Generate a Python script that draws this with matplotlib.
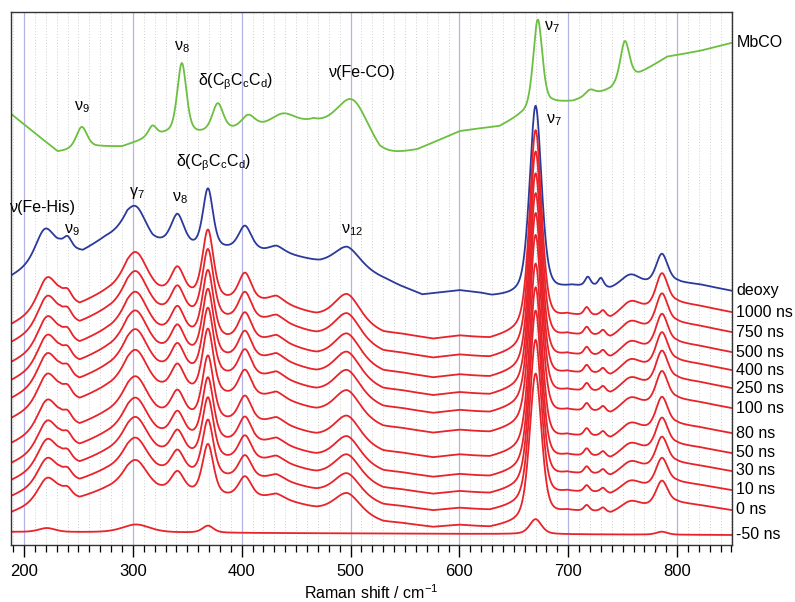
import numpy as np
import matplotlib
matplotlib.use("Agg")
import matplotlib.pyplot as plt
from matplotlib.ticker import MultipleLocator

plt.rcParams['font.family'] = ['Liberation Sans', 'DejaVu Sans']
plt.rcParams['mathtext.default'] = 'regular'

# ---------------- data ----------------
wavenumber = np.arange(188.0, 850.5, 0.5)

# MbCO (green): background points and bands (centre, height, FWHM)
mbco_bg_x = [188, 231, 270, 290, 310, 330, 360, 395, 466, 527, 561, 600, 620, 637, 655, 686, 704, 739, 766, 791, 821, 850]
mbco_bg_y = [431, 393, 398, 398, 405, 410, 410, 414, 420, 386, 394, 413, 416, 418, 428, 441, 443, 455, 471, 488, 494, 502]
mbco_center = [253, 318, 345, 378, 406, 438, 502, 672, 720, 752]
mbco_height = [22, 11, 71, 28, 13, 12, 45, 90, 6, 41]
mbco_fwhm = [12, 9, 10, 12, 15, 27, 36, 10, 10, 10]

# deoxy (blue)
deoxy_bg_x = [188, 233, 254, 275, 295, 318, 341, 354, 369, 386, 403, 420, 432, 472, 497, 533, 545, 566, 600, 619, 630, 646, 670, 690, 703, 724, 739, 800, 821, 850]
deoxy_bg_y = [268, 295, 293, 307, 316, 301, 301, 297, 295, 295, 295, 293, 293, 282, 280, 265, 259, 250, 254, 251, 248, 248, 249, 253, 257, 257, 254, 262, 260, 254]
deoxy_center = [219, 240, 303, 341, 369, 403, 432, 497, 670, 718, 730, 757, 786]
deoxy_height = [29, 11, 27, 28, 60, 23, 5, 18, 190, 9, 9, 13, 30]
deoxy_fwhm = [20, 9, 22, 14, 11, 14, 16, 28, 13, 6, 6, 22, 13]

# photoproduct (red) reference shape = 1000 ns trace
red_bg_x = [188, 233, 251, 275, 295, 322, 341, 355, 369, 386, 403, 420, 432, 469, 497, 530, 545, 576, 600, 628, 650, 670, 690, 699, 727, 739, 800, 821, 850]
red_bg_y = [221, 246, 241, 254, 262, 253, 251, 249, 247, 245, 244, 244, 244, 230, 225, 213, 212, 207, 210, 207, 212, 218, 225, 229, 229, 226, 243, 240, 234]
red_center = [221, 240, 303, 341, 369, 403, 432, 497, 670, 717, 732, 757, 786]
red_height = [29, 9, 34, 26, 68, 28, 5, 27, 198, 8, 6, 13, 33]
red_fwhm = [20, 9, 24, 14, 12, 14, 16, 28, 13, 6, 6, 22, 13]

# delay times: baseline at left/right edge and relative band amplitude
delay_labels = ['1000 ns', '750 ns', '500 ns', '400 ns', '250 ns', '100 ns',
                '80 ns', '50 ns', '30 ns', '10 ns', '0 ns']
delay_left = [221, 203, 183, 165, 147, 127, 102, 82, 65, 49, 33]
delay_right = [233, 213, 193, 175, 157, 137, 112, 92, 74, 55, 35]
delay_scale = [1.0, 0.99, 0.98, 0.97, 0.96, 0.95, 0.93, 0.91, 0.88, 0.82, 0.74]

# -50 ns trace
neg_label = '-50 ns'
neg_left, neg_right = 13, 10
neg_center = [221, 303, 369, 670, 786]
neg_height = [4, 8, 7, 15, 3]
neg_fwhm = [18, 30, 12, 13, 12]

# ---------------- helpers ----------------
def band(x, c, h, w, eta=0.45):
    d = (x - c) / w
    return h * (eta / (1 + 4 * d * d) + (1 - eta) * np.exp(-4 * np.log(2) * d * d))

def spectrum(bx, by, cs, hs, ws):
    y = np.interp(wavenumber, bx, by)
    for c, h, w in zip(cs, hs, ws):
        y = y + band(wavenumber, c, h, w)
    return y

green = '#6cbf3f'
blue = '#2b3a9a'
red = '#e8232a'

mbco = spectrum(mbco_bg_x, mbco_bg_y, mbco_center, mbco_height, mbco_fwhm)
deoxy = spectrum(deoxy_bg_x, deoxy_bg_y, deoxy_center, deoxy_height, deoxy_fwhm)
ref = spectrum(red_bg_x, red_bg_y, red_center, red_height, red_fwhm)
x0, x1 = wavenumber[0], wavenumber[-1]
ref_line = ref[0] + (ref[-1] - ref[0]) * (wavenumber - x0) / (x1 - x0)
shape = ref - ref_line

fig = plt.figure(figsize=(7.95, 6.02), dpi=100)
ax = fig.add_axes([0.0138, 0.0947, 0.9070, 0.8853])
ax.set_xlim(188, 850.5)
ax.set_ylim(0, 533)

ax.xaxis.set_major_locator(MultipleLocator(100))
ax.xaxis.set_minor_locator(MultipleLocator(10))
ax.grid(which='major', axis='x', color='#b4b4e4', lw=0.9)
ax.grid(which='minor', axis='x', color='#cfcfcf', lw=0.7, ls=(0, (1, 2)))
ax.set_axisbelow(True)
ax.set_yticks([])
ax.tick_params(axis='x', which='major', length=8.5, width=1.0, labelsize=12, pad=5)
ax.tick_params(axis='x', which='minor', length=5, width=0.9)
for s in ax.spines.values():
    s.set_linewidth(1.0)
    s.set_color('#333333')
ax.set_xlabel('Raman shift / cm$^{-1}$', fontsize=11.5, labelpad=3)

lw = 1.3
ax.plot(wavenumber, mbco, color=green, lw=lw)
ax.plot(wavenumber, deoxy, color=blue, lw=lw)

lbl_kw = dict(xycoords=('axes fraction', 'data'), ha='left', va='center', fontsize=11.5, annotation_clip=False)
ax.annotate('MbCO', (1.006, mbco[-1]), **lbl_kw)
ax.annotate('deoxy', (1.006, deoxy[-1]), **lbl_kw)

for lab, l, r, s in zip(delay_labels, delay_left, delay_right, delay_scale):
    line = l + (r - l) * (wavenumber - x0) / (x1 - x0)
    y = line + s * shape
    ax.plot(wavenumber, y, color=red, lw=lw)
    ax.annotate(lab, (1.006, y[-1]), **lbl_kw)

neg = spectrum([x0, x1], [neg_left, neg_right], neg_center, neg_height, neg_fwhm)
ax.plot(wavenumber, neg, color=red, lw=lw)
ax.annotate(neg_label, (1.006, neg[-1]), **lbl_kw)

# band assignments
ann = [
    ('ν$_9$', 253, 438), ('ν$_8$', 345, 498), ('δ(C$_β$C$_c$C$_d$)', 394, 463),
    ('ν(Fe-CO)', 511, 473), ('ν$_7$', 685, 518),
    ('ν(Fe-His)', 217, 338), ('ν$_9$', 244, 315), ('γ$_7$', 304, 352),
    ('ν$_8$', 343, 347), ('δ(C$_β$C$_c$C$_d$)', 374, 382), ('ν$_{12}$', 501, 315),
    ('ν$_7$', 687, 425),
]
for t, x, y in ann:
    ax.text(x, y, t, ha='center', va='center', fontsize=11.5, clip_on=False)

fig.savefig('out.png', dpi=100)
